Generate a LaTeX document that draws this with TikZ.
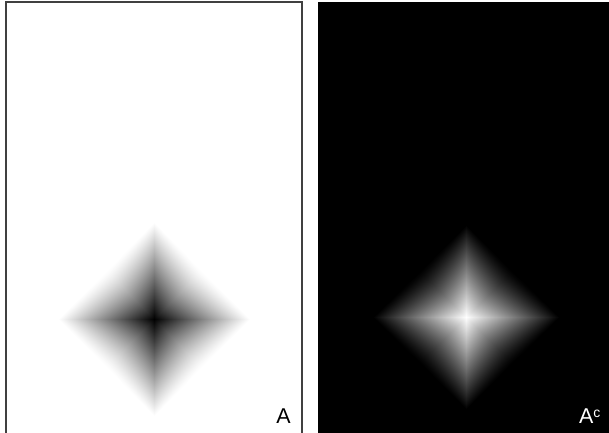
\documentclass[tikz,border=0pt]{standalone}
\usepackage{fontspec}
\setmainfont{Liberation Sans}
\pgfdeclarefunctionalshading{diaA}{\pgfpoint{-96bp}{-97bp}}{\pgfpoint{96bp}{97bp}}{}{
 97 div abs exch 96 div abs
 2 copy sub abs
 3 1 roll add
 dup 1 exch sub
 3 1 roll
 0.0001 add div
 2 div 0.5 exch sub
 0.6 mul 1.05 add
 exch
 dup 0 le {pop pop 0} {exch exp} ifelse
 1 exch sub dup dup
}
\pgfdeclarefunctionalshading{diaB}{\pgfpoint{-93bp}{-92bp}}{\pgfpoint{93bp}{92bp}}{}{
 92 div abs exch 93 div abs
 2 copy sub abs
 3 1 roll add
 dup 1 exch sub
 3 1 roll
 0.0001 add div
 2 div 0.5 exch sub
 0.6 mul 1.0 add
 exch
 dup 0 le {pop pop 0} {exch exp} ifelse
 dup dup
}
\tikzset{
  panelframe/.style={draw=black!75, line width=1.3bp},
  lbl/.style={font=\fontsize{21.5}{24}\selectfont, inner sep=0, anchor=base},
}
\begin{document}
\begin{tikzpicture}[x=1bp,y=-1bp]
\useasboundingbox (0,0) rectangle (609,433);
\fill[white] (0,0) rectangle (609,433);
% right panel background
\fill[black] (318,2) rectangle (609,433);
% diamonds
\node[inner sep=0, outer sep=0] (dA) at (154,319) {\pgfuseshading{diaA}};
\node[inner sep=0, outer sep=0] (dB) at (466,317) {\pgfuseshading{diaB}};
% left frame
\draw[panelframe] (6,440) -- (6,2) -- (302,2) -- (302,440);
% labels
\node[lbl, text=black] (la) at (283.5,423) {A};
\node[lbl, text=white, anchor=base west] (lb) at (579,423) {A\raisebox{0.5ex}{\fontsize{14}{15}\selectfont c}};
\end{tikzpicture}
\end{document}
